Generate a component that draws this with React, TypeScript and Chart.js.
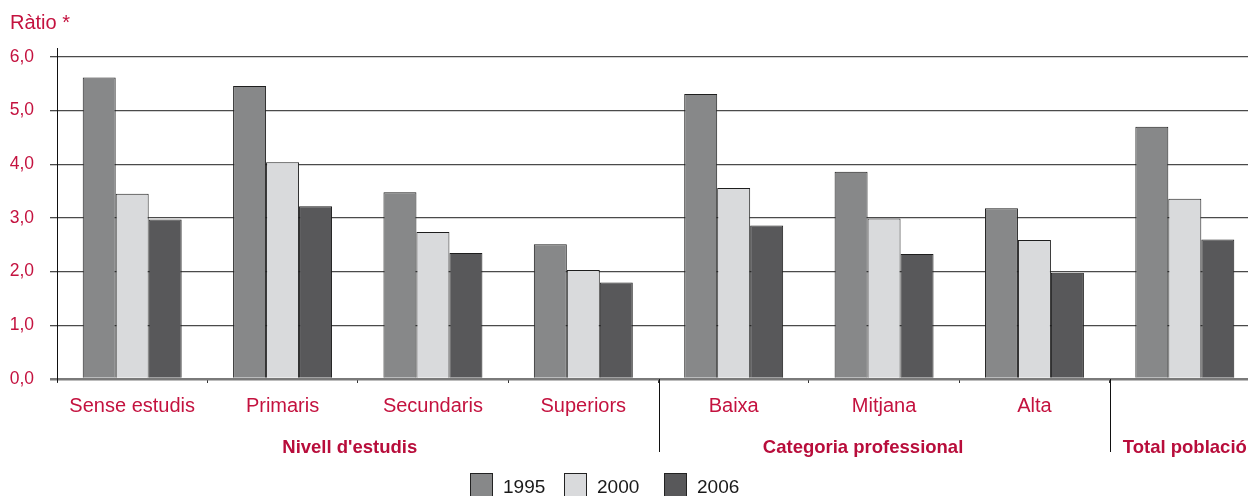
import React, { useEffect, useRef } from "react";
import { Chart, registerables } from "chart.js";

Chart.register(...registerables);

const categories = ["Sense estudis", "Primaris", "Secundaris", "Superiors", "Baixa", "Mitjana", "Alta", "Total població"];
const tickLabels = ["Sense estudis", "Primaris", "Secundaris", "Superiors", "Baixa", "Mitjana", "Alta", ""];
const seriesNames = ["1995", "2000", "2006"];
const values1995 = [5.62, 5.46, 3.48, 2.51, 5.31, 3.86, 3.18, 4.70];
const values2000 = [3.45, 4.04, 2.74, 2.03, 3.56, 2.99, 2.59, 3.36];
const values2006 = [2.97, 3.22, 2.35, 1.80, 2.86, 2.33, 1.98, 2.60];
const groupNames = ["Nivell d'estudis", "Categoria professional", "Total població"];
const groupStart = [0, 4, 7];
const groupEnd = [3, 6, 7];
const yTitle = "Ràtio *";

const COLORS = ["#878889", "#d9dadc", "#58585a"];
const RED = "#c4123f";
const FONT = "'Liberation Sans', Arial, sans-serif";

const overlay = {
  id: "overlay",
  afterDraw(chart: any) {
    const ctx = chart.ctx;
    const x = chart.scales.x;
    const area = chart.chartArea;
    ctx.save();
    // y axis line
    ctx.strokeStyle = "#111";
    ctx.lineWidth = 1;
    ctx.beginPath();
    ctx.moveTo(Math.round(area.left) + 0.5, 48);
    ctx.lineTo(Math.round(area.left) + 0.5, area.bottom + 3);
    ctx.stroke();

    const half = (x.getPixelForTick(1) - x.getPixelForTick(0)) / 2;
    // separators
    groupEnd.forEach((end, i) => {
      if (i === groupEnd.length - 1) return;
      const sx = Math.round(x.getPixelForTick(end) + half) + 0.5;
      ctx.beginPath();
      ctx.moveTo(sx, area.bottom);
      ctx.lineTo(sx, 452);
      ctx.stroke();
    });

    // group labels
    const offsets = [-8, -21, 0];
    ctx.fillStyle = "#b80d3b";
    ctx.font = `bold 18.5px ${FONT}`;
    ctx.textAlign = "center";
    ctx.textBaseline = "alphabetic";
    groupNames.forEach((g, i) => {
      const cx = (x.getPixelForTick(groupStart[i]) + x.getPixelForTick(groupEnd[i])) / 2 + offsets[i];
      ctx.fillText(g, cx, 453);
    });

    // y title
    ctx.fillStyle = RED;
    ctx.font = `20px ${FONT}`;
    ctx.textAlign = "left";
    ctx.fillText(yTitle, 10, 29);

    // legend
    const starts = [470, 564, 664];
    chart.data.datasets.forEach((ds: any, i: number) => {
      const bx = starts[i];
      ctx.fillStyle = ds.backgroundColor;
      ctx.fillRect(bx, 473.5, 23, 23);
      ctx.strokeStyle = "#222";
      ctx.lineWidth = 1;
      ctx.strokeRect(bx + 0.5, 473.5, 22, 23);
      ctx.fillStyle = "#1a1a1a";
      ctx.font = `19px ${FONT}`;
      ctx.textAlign = "left";
      ctx.fillText(ds.label, bx + 33, 493);
    });
    ctx.restore();
  },
};

export default function App() {
  const ref = useRef<HTMLCanvasElement | null>(null);
  useEffect(() => {
    if (!ref.current) return;
    const chart = new Chart(ref.current, {
      type: "bar",
      data: {
        labels: categories,
        datasets: [values1995, values2000, values2006].map((vals, i) => ({
          label: seriesNames[i],
          data: vals,
          backgroundColor: COLORS[i],
          borderColor: "#1e1e1e",
          borderWidth: 1,
          categoryPercentage: 0.658,
          barPercentage: 1,
        })),
      },
      options: {
        animation: false,
        responsive: false,
        devicePixelRatio: 1,
        layout: { padding: { top: 57, left: 0, right: 0, bottom: 0 } },
        plugins: { legend: { display: false }, tooltip: { enabled: false } },
        scales: {
          x: {
            offset: true,
            border: { display: false },
            grid: {
              display: true,
              offset: true,
              drawOnChartArea: false,
              drawTicks: true,
              tickLength: 4,
              color: "#333",
              lineWidth: 1,
            },
            ticks: {
              color: RED,
              font: { family: FONT, size: 20 },
              padding: 11,
              maxRotation: 0,
              autoSkip: false,
              callback: (_v: any, i: number) => tickLabels[i],
            },
            afterFit: (s: any) => {
              s.height = 117;
            },
          },
          y: {
            min: 0,
            max: 6,
            border: { display: false },
            grid: {
              color: (c: any) => (c.tick && c.tick.value === 0 ? "#7a7a7a" : "#4a4a4a"),
              lineWidth: (c: any) => (c.tick && c.tick.value === 0 ? 2.5 : 1.3),
              tickLength: 7,
            },
            ticks: {
              stepSize: 1,
              color: RED,
              font: { family: FONT, size: 17.5 },
              padding: 16,
              callback: (v: any) => Number(v).toFixed(1).replace(".", ","),
            },
            afterFit: (s: any) => {
              s.width = 57;
            },
          },
        },
      },
      plugins: [overlay],
    });
    return () => chart.destroy();
  }, []);

  return (
    <div style={{ position: "absolute", left: 0, top: 0, width: 1248, height: 496, overflow: "hidden", background: "#fff" }}>
      <canvas ref={ref} width={1260} height={496} style={{ display: "block" }} />
    </div>
  );
}
